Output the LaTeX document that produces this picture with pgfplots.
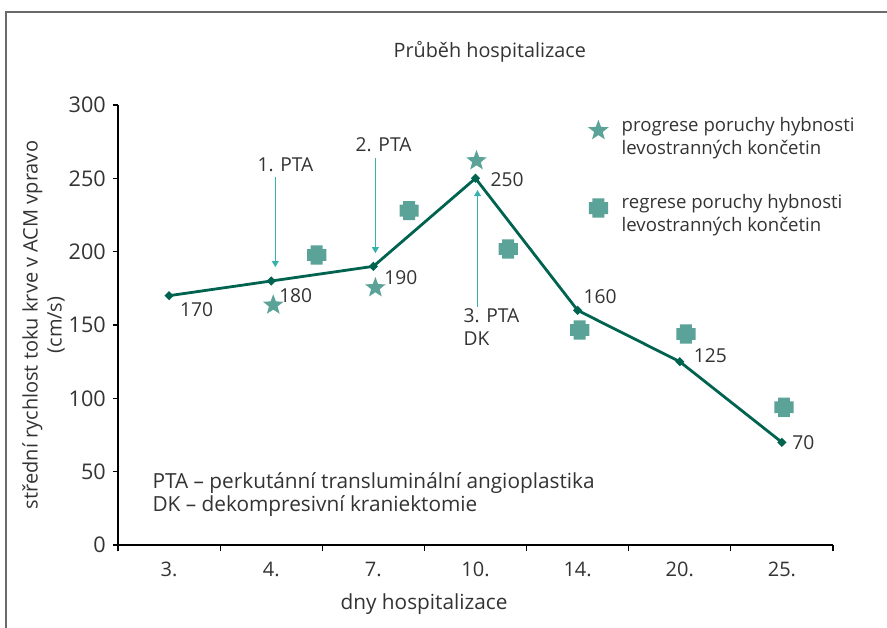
\documentclass[border=0pt]{standalone}
\usepackage{fontspec}
\setmainfont{Open Sans}
\usepackage{pgfplots}
\pgfplotsset{compat=1.18}
\usetikzlibrary{arrows.meta}
\definecolor{linec}{HTML}{00634F}
\definecolor{markc}{HTML}{5BA398}
\definecolor{arrc}{HTML}{35B2AE}
\definecolor{txt}{HTML}{333333}
\definecolor{framec}{HTML}{6A6A6A}
\newcommand{\lab}{\fontsize{9.6}{11.5}\selectfont}
\newcommand{\ytl}{\fontsize{10.8}{12}\selectfont}
\newcommand{\xtl}{\fontsize{10}{12}\selectfont}
\newcommand{\leg}{\fontsize{9.3}{11.5}\selectfont}
\newcommand{\note}{\fontsize{10.4}{11.5}\selectfont}
\pgfdeclareplotmark{fstar}{%
  \pgfpathmoveto{\pgfpointpolar{90}{\pgfplotmarksize}}%
  \pgfpathlineto{\pgfpointpolar{126}{0.42\pgfplotmarksize}}%
  \pgfpathlineto{\pgfpointpolar{162}{\pgfplotmarksize}}%
  \pgfpathlineto{\pgfpointpolar{198}{0.42\pgfplotmarksize}}%
  \pgfpathlineto{\pgfpointpolar{234}{\pgfplotmarksize}}%
  \pgfpathlineto{\pgfpointpolar{270}{0.42\pgfplotmarksize}}%
  \pgfpathlineto{\pgfpointpolar{306}{\pgfplotmarksize}}%
  \pgfpathlineto{\pgfpointpolar{342}{0.42\pgfplotmarksize}}%
  \pgfpathlineto{\pgfpointpolar{18}{\pgfplotmarksize}}%
  \pgfpathlineto{\pgfpointpolar{54}{0.42\pgfplotmarksize}}%
  \pgfpathclose\pgfusepathqfill}
\pgfdeclareplotmark{fplus}{%
  \pgfsetcornersarced{\pgfpoint{0.9pt}{0.9pt}}%
  \pgfpathmoveto{\pgfpoint{0pt}{\pgfplotmarksize}}%
  \pgfpathlineto{\pgfpoint{0.62\pgfplotmarksize}{\pgfplotmarksize}}%
  \pgfpathlineto{\pgfpoint{0.62\pgfplotmarksize}{0.62\pgfplotmarksize}}%
  \pgfpathlineto{\pgfpoint{\pgfplotmarksize}{0.62\pgfplotmarksize}}%
  \pgfpathlineto{\pgfpoint{\pgfplotmarksize}{-0.62\pgfplotmarksize}}%
  \pgfpathlineto{\pgfpoint{0.62\pgfplotmarksize}{-0.62\pgfplotmarksize}}%
  \pgfpathlineto{\pgfpoint{0.62\pgfplotmarksize}{-\pgfplotmarksize}}%
  \pgfpathlineto{\pgfpoint{-0.62\pgfplotmarksize}{-\pgfplotmarksize}}%
  \pgfpathlineto{\pgfpoint{-0.62\pgfplotmarksize}{-0.62\pgfplotmarksize}}%
  \pgfpathlineto{\pgfpoint{-\pgfplotmarksize}{-0.62\pgfplotmarksize}}%
  \pgfpathlineto{\pgfpoint{-\pgfplotmarksize}{0.62\pgfplotmarksize}}%
  \pgfpathlineto{\pgfpoint{-0.62\pgfplotmarksize}{0.62\pgfplotmarksize}}%
  \pgfpathlineto{\pgfpoint{-0.62\pgfplotmarksize}{\pgfplotmarksize}}%
  \pgfpathclose\pgfusepathqfill}
\pgfdeclareplotmark{fdiam}{%
  \pgfpathmoveto{\pgfpoint{0pt}{\pgfplotmarksize}}%
  \pgfpathlineto{\pgfpoint{\pgfplotmarksize}{0pt}}%
  \pgfpathlineto{\pgfpoint{0pt}{-\pgfplotmarksize}}%
  \pgfpathlineto{\pgfpoint{-\pgfplotmarksize}{0pt}}%
  \pgfpathclose\pgfusepathqfill}
\begin{document}
\begin{tikzpicture}
\useasboundingbox (-59pt,-41pt) rectangle (384.5pt,272.5pt);
\begin{axis}[
  at={(0,0)}, anchor=south west,
  scale only axis, width=357.5pt, height=220pt,
  xmin=-0.5, xmax=6.5, ymin=0, ymax=300,
  axis x line*=bottom, axis y line*=left,
  axis line style={-, black, line width=0.6pt},
  xtick={0,...,6}, xticklabels={3.,4.,7.,10.,14.,20.,25.},
  major x tick style={draw=none},
  minor xtick={-0.5,0.5,...,6.5},
  ytick={0,50,...,300},
  tick align=outside,
  tick style={black, line width=0.6pt},
  major tick length=2.6pt, minor tick length=3pt,
  yticklabel style={font=\ytl, text=txt},
  xticklabel style={font=\xtl, text=txt, yshift=-2.5pt},
  /pgf/number format/assume math mode=true,
  clip=false,
  ylabel={střední rychlost toku krve v ACM vpravo\\(cm/s)},
  ylabel style={at={(axis description cs:-0.104,0.5)}, anchor=center, align=center, font=\fontsize{10}{12}\selectfont, text=txt},
  xlabel={dny hospitalizace},
  xlabel style={at={(axis description cs:0.428,-0.134)}, anchor=center, font=\fontsize{10.4}{12}\selectfont, text=txt},
  legend style={at={(axis cs:4.04,298.7)}, anchor=north west, draw=none, fill=none, font=\leg, text=txt, row sep=19.5pt,
    /tikz/every odd column/.append style={column sep=4.5pt}},
  legend cell align=left,
]
\addplot[linec, line width=1.4pt, mark=fdiam, mark size=2.3pt, forget plot]
  coordinates {(0,170)(1,180)(2,190)(3,250)(4,160)(5,125)(6,70)};
\addplot[only marks, mark=fstar, mark size=5.4pt, color=markc]
  coordinates {(1.02,163.6)(2.02,175.4)(3.01,262)};
\addlegendentry{\begin{tabular}{@{}l@{}}progrese poruchy hybnosti\\levostranných končetin\end{tabular}}
\addplot[only marks, mark=fplus, mark size=4.8pt, color=markc]
  coordinates {(1.445,197.7)(2.35,228)(3.32,201.8)(4.02,146.6)(5.06,143.9)(6.02,93.9)};
\addlegendentry{\begin{tabular}{@{}l@{}}regrese poruchy hybnosti\\levostranných končetin\end{tabular}}
% data labels
\node[txt, font=\lab] at (axis cs:0.27,160.2) {170};
\node[txt, font=\lab] at (axis cs:1.24,170) {180};
\node[txt, font=\lab] at (axis cs:2.27,182) {190};
\node[txt, font=\lab] at (axis cs:3.31,249) {250};
\node[txt, font=\lab] at (axis cs:4.22,169.5) {160};
\node[txt, font=\lab] at (axis cs:5.30,129) {125};
\node[txt, font=\lab] at (axis cs:6.21,70) {70};
% arrows
\draw[arrc, line width=0.6pt, -{Triangle[length=3pt,width=3.4pt]}] (axis cs:1.04,251) -- (axis cs:1.04,189.5);
\draw[arrc, line width=0.6pt, -{Triangle[length=3pt,width=3.4pt]}] (axis cs:2.02,264) -- (axis cs:2.02,199);
\draw[arrc, line width=0.6pt, -{Triangle[length=3pt,width=3.4pt]}] (axis cs:3.02,162) -- (axis cs:3.02,242);
\node[txt, font=\lab] at (axis cs:1.14,259) {1. PTA};
\node[txt, font=\lab] at (axis cs:2.10,272.7) {2. PTA};
\node[txt, font=\lab, align=left, anchor=west, inner sep=0pt] at (axis cs:2.88,148.6) {3. PTA\\DK};
\node[txt, font=\note, align=left, anchor=west, inner sep=0pt] at (axis cs:-0.166,34.4) {PTA – perkutánní transluminální angioplastika\\DK – dekompresivní kraniektomie};
\node[txt, font=\fontsize{9.9}{12}\selectfont] at (axis cs:3.14,336) {Průběh hospitalizace};
\end{axis}
\draw[framec, line width=1pt] (-55.75pt,-45pt) -- (-55.75pt,266.25pt) -- (390pt,266.25pt);
\end{tikzpicture}
\end{document}
